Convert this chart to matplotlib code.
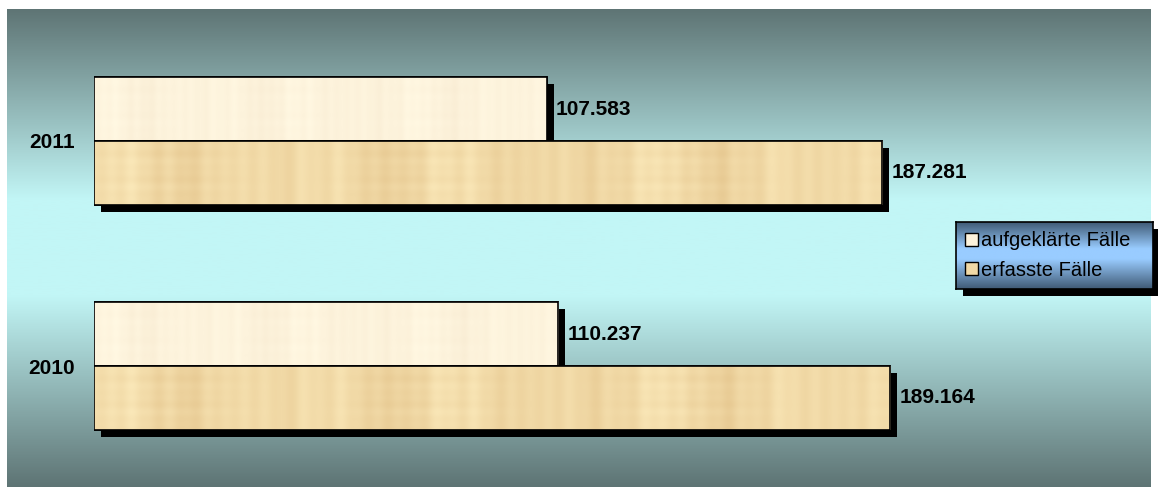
import matplotlib.pyplot as plt
import matplotlib.patheffects as pe
from matplotlib.colors import LinearSegmentedColormap, to_rgb
from matplotlib.patches import Patch, Rectangle
import numpy as np

years = ['2010', '2011']
aufgeklaert = [110237, 107583]
erfasst = [189164, 187281]
labels = ['aufgeklärte Fälle', 'erfasste Fälle']
colors = ['#fdf3dc', '#f1d9a6']

plt.rcParams['font.family'] = ['Liberation Sans', 'DejaVu Sans']

W, H = 1158, 494
fig = plt.figure(figsize=(W / 100, H / 100), dpi=100)
fig.patch.set_facecolor('white')

# background gradient (dark - light - dark)
bg = fig.add_axes([7 / W, 7 / H, 1144 / W, 478 / H])
bg.set_zorder(-2)
bg_cmap = LinearSegmentedColormap.from_list(
    'bg', [(0, '#5e7474'), (0.4, '#c2f6f6'), (0.6, '#c2f6f6'), (1, '#5e7474')])
grad = np.linspace(0, 1, 256).reshape(-1, 1)
bg.imshow(grad, aspect='auto', cmap=bg_cmap, extent=[0, 1, 0, 1])
bg.axis('off')


def papyrus(base, strength, n=500):
    # streaky paper look, purely decorative
    xs = np.linspace(0, 1, n)
    ys = np.linspace(0, 1, 40)
    vert = (np.sin(xs * 37 + 0.4) * np.sin(xs * 9 + 1.1)
            + 0.5 * np.sin(xs * 131 + 1.3) * np.sin(xs * 17)
            + 0.3 * np.sin(xs * 263 + 2.1))
    horiz = 0.4 * np.sin(ys * 23 + 0.5) * np.sin(ys * 7)
    tex = vert[None, :] + horiz[:, None] * (0.5 + 0.5 * np.sin(xs * 19)[None, :])
    rgb = np.array(to_rgb(base))
    img = rgb[None, None, :] + strength * tex[:, :, None] * np.array([0.5, 0.8, 1.0])
    return np.clip(img, 0, 1)


ax = fig.add_axes([94 / W, 15.5 / H, 842 / W, 450 / H])
ax.patch.set_visible(False)

h = 0.284
shadow = [pe.SimplePatchShadow(offset=(5, -5), shadow_rgbFace='black', alpha=1.0), pe.Normal()]
y = np.arange(len(years))

series = [(aufgeklaert, y + h / 2, colors[0], 0.015), (erfasst, y - h / 2, colors[1], 0.04)]
for i in range(len(years)):
    for k, (vals, ys, col, st) in enumerate(series):
        z = 2 + 2 * i + k
        v, yc = vals[i], ys[i]
        bars = ax.barh(yc, v, height=h, color=col, edgecolor='black', linewidth=1.2, zorder=z)
        bars[0].set_path_effects(shadow)
        ax.imshow(papyrus(col, st), extent=[0, v, yc - h / 2, yc + h / 2], aspect='auto',
                  interpolation='bilinear', zorder=z + 0.1)
        ax.barh(yc, v, height=h, color='none', edgecolor='black', linewidth=1.2, zorder=z + 0.2)
        ax.annotate(f'{v:,}'.replace(',', '.'), xy=(v, yc), xytext=(6.5, 0), textcoords='offset points',
                    va='center', ha='left', fontsize=15, fontweight='bold', zorder=10)

ax.set_xlim(0, 200000)
ax.set_ylim(-0.5, 1.5)
ax.set_yticks(y)
ax.set_yticklabels(years, fontsize=15, fontweight='bold')
ax.tick_params(axis='y', length=0, pad=14)
ax.set_xticks([])
for s in ax.spines.values():
    s.set_visible(False)

# legend box with shadow and blue gradient
lx, ly, lw, lh = 956, 494 - 289, 197, 67
fig.patches.append(Rectangle(((lx + 7) / W, (ly - 7) / H), lw / W, lh / H, transform=fig.transFigure,
                             facecolor='black', edgecolor='none', zorder=-1))
lax = fig.add_axes([lx / W, ly / H, lw / W, lh / H])
lax.set_zorder(1)
leg_cmap = LinearSegmentedColormap.from_list(
    'lg', [(0, '#3f5a75'), (0.4, '#99ccff'), (0.55, '#99ccff'), (1, '#3f5a75')])
lax.imshow(grad, aspect='auto', cmap=leg_cmap, extent=[0, 1, 0, 1])
lax.set_xticks([])
lax.set_yticks([])
for s in lax.spines.values():
    s.set_linewidth(1.2)
handles = [Patch(facecolor=c, edgecolor='black', linewidth=1.0) for c in colors]
lax.legend(handles, labels, loc='center left', bbox_to_anchor=(0.0, 0.5), frameon=False, fontsize=14.5,
           handlelength=0.65, handleheight=0.65, handletextpad=0.15, labelspacing=0.5, borderpad=0.2,
           borderaxespad=0.25)

fig.savefig('out.png', dpi=100)
